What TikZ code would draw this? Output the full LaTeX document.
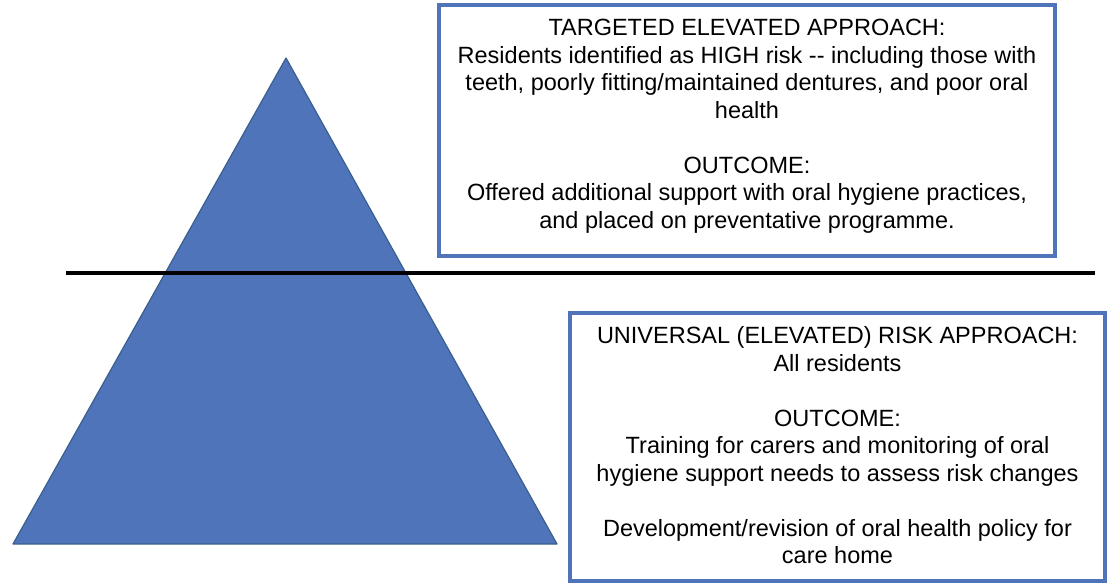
\documentclass[tikz,border=0pt]{standalone}
\usepackage{fontspec}
\setmainfont{Liberation Sans}
\usetikzlibrary{positioning}
\definecolor{xblue}{HTML}{4F74BA}
\definecolor{xedge}{HTML}{3A5F8E}
\tikzset{
	riskbox/.style = {draw=xblue, line width=4pt, fill=white, inner sep=0pt},
	boxtext/.style = {align=center, inner sep=0pt, font=\fontsize{23.5}{27.5}\selectfont},
	pyramid/.style = {fill=xblue, draw=xedge, line width=1.2pt, line join=round},
}

\begin{document}
\begin{tikzpicture}[x=1pt, y=-1pt]
			\useasboundingbox (0,0) rectangle (1111,586);
			\coordinate (apex) at (286,58);
			\coordinate (baseleft) at (13,544);
			\coordinate (baseright) at (557,544);
			\coordinate (splitleft) at (66,273);
			\coordinate (splitright) at (1095,273);
			\filldraw[pyramid] (apex) -- (baseleft) -- (baseright) -- cycle;
			\draw[line width=4.5pt] (splitleft) -- (splitright);
			% targeted approach
			\node[riskbox, minimum width=616pt, minimum height=251pt] (targeted) at (747,130.5) {};
			\node[boxtext] (targetedtext) at (747,126) {TARGETED ELEVATED APPROACH:\\
				Residents identified as HIGH risk -{}- including those with\\
				teeth, poorly fitting/maintained dentures, and poor oral\\
				health\\[27.5pt]
				OUTCOME:\\
				Offered additional support with oral hygiene practices,\\
				and placed on preventative programme.};
			% universal approach
			\node[riskbox, minimum width=535pt, minimum height=268pt] (universal) at (837.5,447) {};
			\node[boxtext] (universaltext) at (837.5,445.5) {UNIVERSAL (ELEVATED) RISK APPROACH:\\
				All residents\\[27.5pt]
				OUTCOME:\\
				Training for carers and monitoring of oral\\
				hygiene support needs to assess risk changes\\[27.5pt]
				Development/revision of oral health policy for\\
				care home};
		\end{tikzpicture}
\end{document}
